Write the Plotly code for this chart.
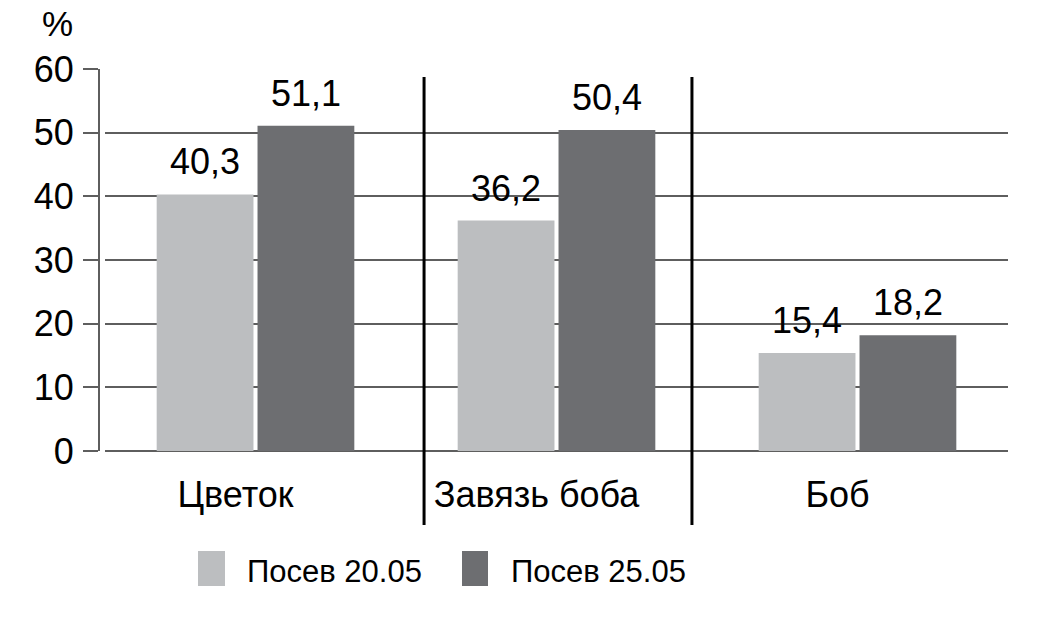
import plotly.graph_objects as go

# ---- data ----
categories = ["Цветок", "Завязь боба", "Боб"]
series_names = ["Посев 20.05", "Посев 25.05"]
values_sow_2005 = [40.3, 36.2, 15.4]
values_sow_2505 = [51.1, 50.4, 18.2]
y_tick_values = [0, 10, 20, 30, 40, 50, 60]
y_unit_label = "%"
separator_positions = [0.56, 1.45]  # between categories, in category units

# ---- style ----
colors = ["#bcbec0", "#6d6e71"]
FONT = "Liberation Sans, Arial, sans-serif"
GRID = "#5e5e5e"
BARGAP = 0.33

W, H = 1051, 624
ML, MT = 99, 69
MR = W - 1008
MB = H - 451
PW = W - ML - MR
PH = H - MT - MB


def px_x(px):
    return (px - ML) / PW


def px_y(py):
    return (H - MB - py) / PH


def fmt(v):
    return f"{v:.1f}".replace(".", ",")


fig = go.Figure()
for i, (name, vals, col) in enumerate(zip(series_names, [values_sow_2005, values_sow_2505], colors)):
    fig.add_trace(go.Bar(
        x=categories, y=vals, name=name, offsetgroup=str(i),
        marker=dict(color=col, line=dict(width=0)),
        showlegend=False, hoverinfo="skip",
    ))
for i, (name, vals) in enumerate(zip(series_names, [values_sow_2005, values_sow_2505])):
    fig.add_trace(go.Scatter(
        x=categories, y=vals, name=name, offsetgroup=str(i),
        mode="markers+text", text=[fmt(v) for v in vals], textposition="top center",
        marker=dict(size=16, opacity=0),
        textfont=dict(family=FONT, size=36, color="black"),
        cliponaxis=False, showlegend=False, hoverinfo="skip",
    ))

shapes = []
for s in separator_positions:
    shapes.append(dict(type="line", xref="x", yref="paper", x0=s, x1=s,
                       y0=px_y(525), y1=px_y(77),
                       line=dict(color="black", width=3)))

annotations = [dict(text=y_unit_label, xref="paper", yref="paper",
                    x=px_x(75), y=px_y(23), xanchor="right", yanchor="middle",
                    showarrow=False, font=dict(family=FONT, size=35, color="black"))]

legend_boxes = [(198, 225), (462, 488)]
legend_text_x = [245, 509]
for name, col, (bx0, bx1), tx in zip(series_names, colors, legend_boxes, legend_text_x):
    shapes.append(dict(type="rect", xref="paper", yref="paper",
                       x0=px_x(bx0), x1=px_x(bx1), y0=px_y(586), y1=px_y(551),
                       fillcolor=col, line=dict(width=0)))
    annotations.append(dict(text=name, xref="paper", yref="paper",
                            x=px_x(tx), y=px_y(571), xanchor="left", yanchor="middle",
                            showarrow=False,
                            font=dict(family=FONT, size=31, color="black")))

fig.update_layout(
    width=W, height=H,
    margin=dict(l=ML, r=MR, t=MT, b=MB, autoexpand=False),
    paper_bgcolor="white", plot_bgcolor="white",
    barmode="group", bargap=BARGAP, bargroupgap=0.04,
    scattermode="group", scattergap=BARGAP,
    font=dict(family=FONT, size=36, color="black"),
    shapes=shapes, annotations=annotations,
    xaxis=dict(domain=[6 / PW, 1], range=[-0.5, 2.5], showline=False, showgrid=False,
               zeroline=False, ticks="", ticklabelstandoff=19, ticklabelshift=-20,
               tickfont=dict(family=FONT, size=36, color="black"), automargin=False,
               fixedrange=True),
    yaxis=dict(range=[0, 60], tickvals=y_tick_values, anchor="free", position=0,
               showline=True, linecolor=GRID, linewidth=2,
               ticks="outside", ticklen=15, tickwidth=2, tickcolor=GRID,
               showgrid=True, gridcolor=GRID, gridwidth=2,
               zeroline=True, zerolinecolor=GRID, zerolinewidth=2,
               ticklabelstandoff=2,
               tickfont=dict(family=FONT, size=36, color="black"), automargin=False,
               fixedrange=True),
)

fig.write_html("out.html", config={"displayModeBar": False},
               post_script="document.body.style.margin='0px';document.body.style.overflow='hidden';")
